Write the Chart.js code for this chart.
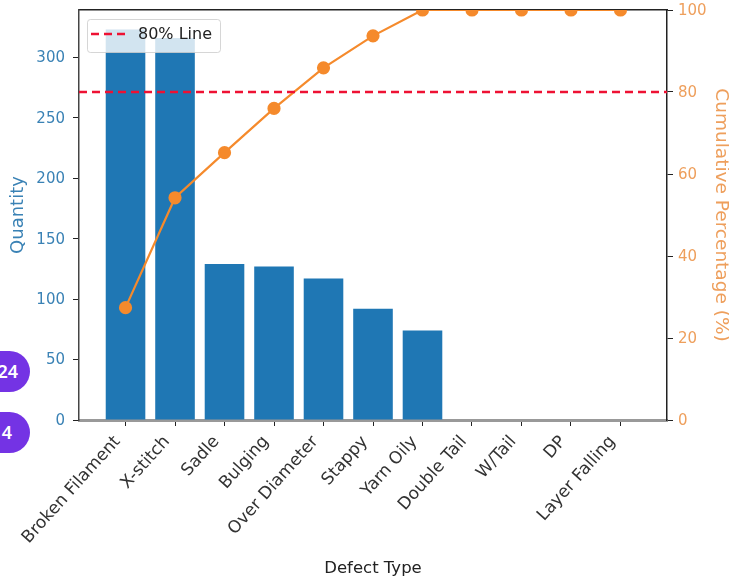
<!DOCTYPE html>
<html lang="en">
<head>
    <meta charset="UTF-8">
    <title>Defect Pareto</title>
    <script src="https://cdn.jsdelivr.net/npm/chart.js"></script>
    <style>
        html, body { margin: 0; padding: 0; background: #fff; width: 729px; height: 581px; overflow: hidden; }
        #wrap { position: relative; width: 729px; height: 581px; }
        canvas { position: absolute; left: 0; top: 0; }
        /* purple badges cut off by the left edge of the screenshot */
        .badge { position: absolute; left: -30px; width: 60px; height: 41px; border-radius: 21px; background: #7433e4; color: #fff;
                 font: 600 18px 'Noto Sans', sans-serif; line-height: 41px; text-align: right; box-sizing: border-box; }
    </style>
</head>
<body>
<div id="wrap">
    <canvas id="pareto" width="729" height="581"></canvas>
    <div class="badge" style="top:351px; padding-right:12px;">24</div>
    <div class="badge" style="top:412px; padding-right:18px;">4</div>
</div>
<script>
    // values
    const categories = ['Broken Filament', 'X-stitch', 'Sadle', 'Bulging', 'Over Diameter', 'Stappy', 'Yarn Oily', 'Double Tail', 'W/Tail', 'DP', 'Layer Falling'];
    const quantity = [323, 316, 129, 127, 117, 92, 74, 0, 0, 0, 0];
    const cumulativePct = [27.4, 54.2, 65.2, 76.0, 85.9, 93.7, 100, 100, 100, 100, 100];
    const lineLevel = [80, 80];
    const lineX = [-0.94, 10.94];

    const xMin = -0.94, xMax = 10.94;
    const yMax = 339.15;
    const FONT = "'DejaVu Sans', sans-serif";
    const BLUE = '#1f77b4';
    const BLUE_TEXT = '#3a82b5';
    const ORANGE = '#f58a2c';
    const ORANGE_TEXT = '#ee9f5c';

    // the plot box is fixed, so no scale may ask for extra room
    const fixSize = (prop, size) => (scale) => {
        scale[prop] = size;
        scale.paddingTop = scale.paddingBottom = scale.paddingLeft = scale.paddingRight = 0;
    };

    // legend sits inside the axes with a see-through box, like matplotlib draws it
    const insideLegend = {
        id: 'insideLegend',
        afterDatasetsDraw(chart) {
            const ds = chart.data.datasets.find(d => d.showInLegend);
            const ctx = chart.ctx;
            ctx.save();
            ctx.fillStyle = 'rgba(255,255,255,0.8)';
            ctx.strokeStyle = 'rgba(204,204,204,0.8)';
            ctx.lineWidth = 1;
            ctx.beginPath();
            ctx.roundRect(87.5, 19.5, 133, 33, 3);
            ctx.fill();
            ctx.stroke();
            ctx.strokeStyle = ds.borderColor;
            ctx.lineWidth = ds.borderWidth;
            ctx.setLineDash(ds.borderDash);
            ctx.beginPath();
            ctx.moveTo(91, 34);
            ctx.lineTo(127, 34);
            ctx.stroke();
            ctx.setLineDash([]);
            ctx.fillStyle = '#222';
            ctx.font = '16px ' + FONT;
            ctx.textBaseline = 'middle';
            ctx.fillText(ds.label, 138, 35);
            ctx.restore();
        }
    };

    new Chart(document.getElementById('pareto'), {
        data: {
            datasets: [
                {
                    type: 'bar',
                    label: 'Quantity',
                    data: quantity.map((v, i) => ({ x: i, y: v })),
                    backgroundColor: BLUE,
                    barPercentage: 0.8,
                    categoryPercentage: 1,
                    xAxisID: 'x',
                    yAxisID: 'y',
                    order: 3
                },
                {
                    type: 'line',
                    label: 'Cumulative %',
                    data: cumulativePct.map((v, i) => ({ x: i, y: v })),
                    borderColor: ORANGE,
                    backgroundColor: ORANGE,
                    borderWidth: 2.2,
                    pointRadius: 5.5,
                    pointHoverRadius: 5.5,
                    clip: 0,
                    xAxisID: 'x',
                    yAxisID: 'y1',
                    order: 2
                },
                {
                    type: 'line',
                    label: '80% Line',
                    showInLegend: true,
                    data: lineX.map((x, i) => ({ x: x, y: lineLevel[i] })),
                    borderColor: '#ee1133',
                    borderWidth: 2.5,
                    borderDash: [8, 5],
                    pointRadius: 0,
                    xAxisID: 'x',
                    yAxisID: 'y1',
                    order: 1
                }
            ]
        },
        options: {
            responsive: false,
            animation: false,
            layout: { padding: 0 },
            plugins: { legend: { display: false }, tooltip: { enabled: false } },
            scales: {
                x: {
                    type: 'linear',
                    position: 'bottom',
                    offset: false,
                    min: xMin,
                    max: xMax,
                    afterBuildTicks: (scale) => { scale.ticks = categories.map((_, i) => ({ value: i })); },
                    afterFit: fixSize('height', 161),
                    ticks: {
                        callback: (v) => categories[v],
                        autoSkip: false,
                        minRotation: 48,
                        maxRotation: 48,
                        labelOffset: -8,
                        color: '#333',
                        font: { family: FONT, size: 17 },
                        padding: 6
                    },
                    grid: { offset: false, drawOnChartArea: false, tickLength: 6, tickColor: '#222' },
                    border: { color: '#999', width: 3 },
                    title: { display: true, text: 'Defect Type', color: '#222', font: { family: FONT, size: 16.5 }, padding: { top: 0, bottom: 2 } }
                },
                xTop: {
                    type: 'linear',
                    position: 'top',
                    offset: false,
                    min: xMin,
                    max: xMax,
                    afterFit: fixSize('height', 10),
                    ticks: { display: false },
                    grid: { offset: false, drawOnChartArea: false, drawTicks: false },
                    border: { color: '#222', width: 1.5 }
                },
                y: {
                    position: 'left',
                    min: 0,
                    max: yMax,
                    afterFit: fixSize('width', 79),
                    ticks: { stepSize: 50, includeBounds: false, labelOffset: 1, color: BLUE_TEXT, font: { family: FONT, size: 15 }, padding: 8 },
                    grid: { drawOnChartArea: false, tickLength: 6, tickColor: '#222' },
                    border: { color: '#444', width: 1.5 },
                    title: { display: true, text: 'Quantity', color: BLUE_TEXT, font: { family: FONT, size: 18 }, padding: { top: 8, bottom: 0 } }
                },
                y1: {
                    position: 'right',
                    min: 0,
                    max: 100,
                    afterFit: fixSize('width', 62),
                    ticks: { stepSize: 20, labelOffset: 1, color: ORANGE_TEXT, font: { family: FONT, size: 15 }, padding: 5 },
                    grid: { drawOnChartArea: false, tickLength: 6, tickColor: '#222' },
                    border: { color: '#222', width: 1.5 },
                    title: { display: true, text: 'Cumulative Percentage (%)', color: ORANGE_TEXT, font: { family: FONT, size: 18.5 }, padding: { top: -3, bottom: 0 } }
                }
            }
        },
        plugins: [insideLegend]
    });
</script>
</body>
</html>
